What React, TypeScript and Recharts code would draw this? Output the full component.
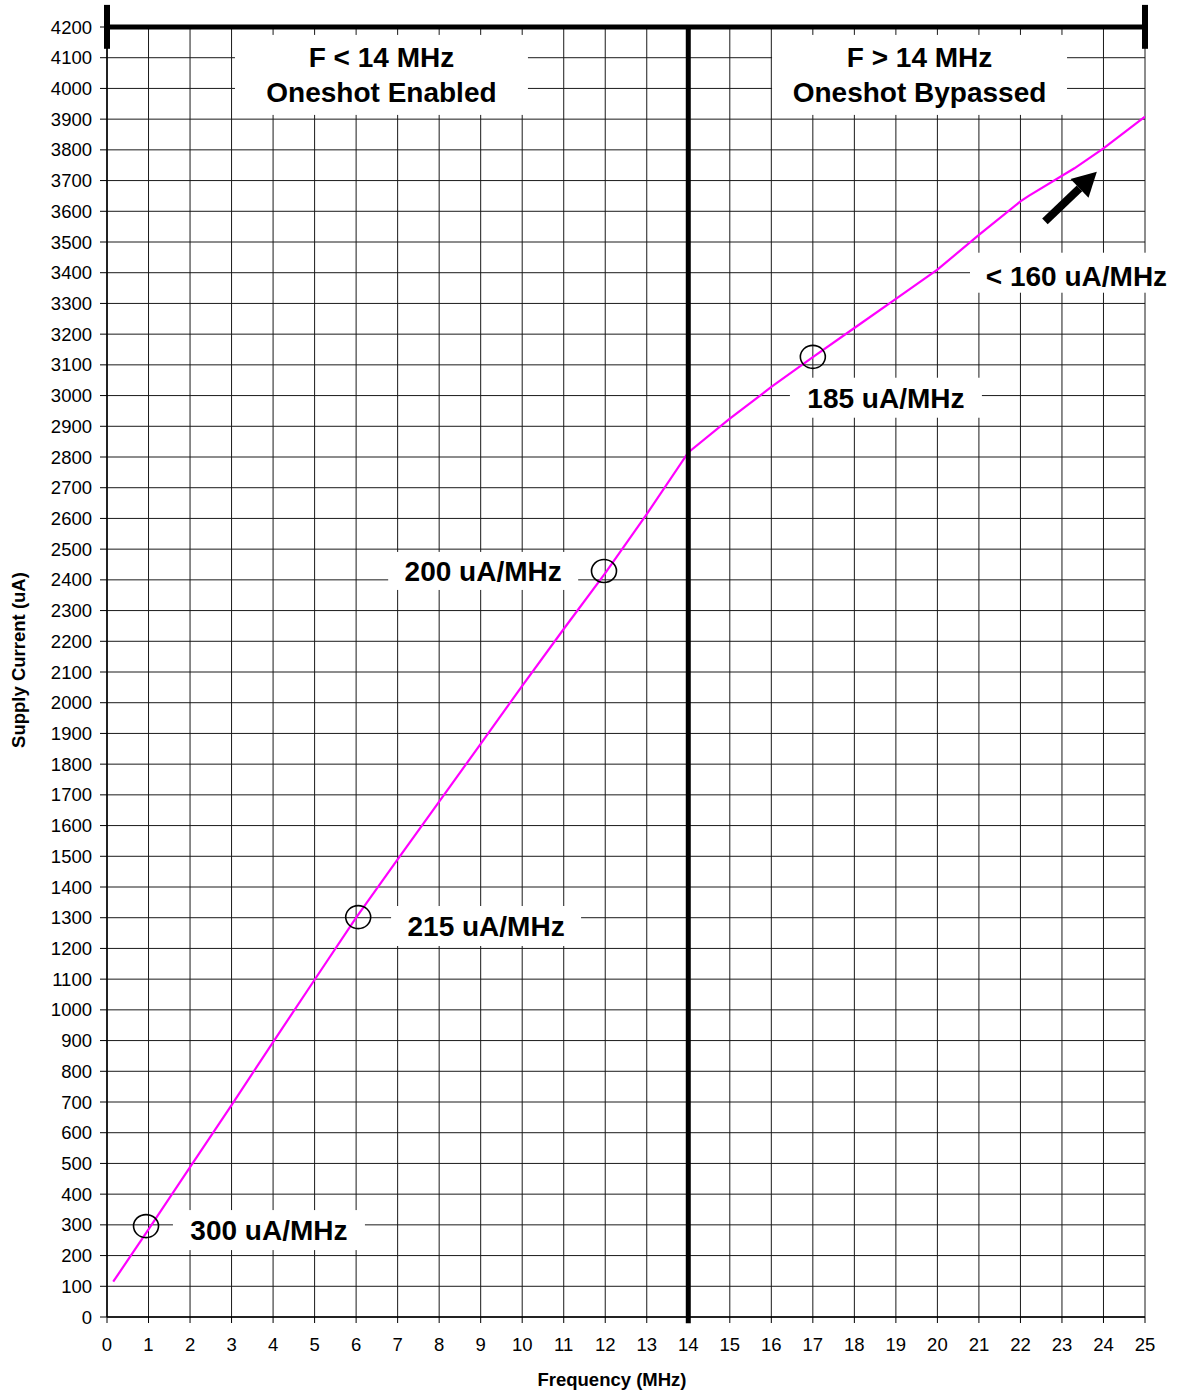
import {
  ComposedChart, Line, Scatter, XAxis, YAxis, CartesianGrid,
  ReferenceLine, ReferenceDot, Label,
} from 'recharts';

const FONT = '"Liberation Sans", Arial, Helvetica, sans-serif';

// frequency (MHz) and supply current (uA)
const FREQ = [0.15, 1, 2, 3, 4, 5, 6, 7, 8, 9, 10, 11, 12, 13, 14, 15, 16, 17, 18, 19, 20, 21, 22, 22.2, 23.3, 24, 25];
const CURRENT = [115, 285, 488, 690, 895, 1098, 1300, 1490, 1678, 1866, 2055, 2240, 2422, 2614, 2815, 2925, 3028, 3125, 3220, 3315, 3410, 3523, 3632, 3650, 3740, 3805, 3908];

// circled points on the curve
const MARK_FREQ = [0.94, 6.05, 11.97, 17.0];
const MARK_CURRENT = [296, 1302, 2429, 3126];

const X_TICKS = [0, 1, 2, 3, 4, 5, 6, 7, 8, 9, 10, 11, 12, 13, 14, 15, 16, 17, 18, 19, 20, 21, 22, 23, 24, 25];
const Y_TICKS = [
  0, 100, 200, 300, 400, 500, 600, 700, 800, 900, 1000, 1100, 1200, 1300, 1400,
  1500, 1600, 1700, 1800, 1900, 2000, 2100, 2200, 2300, 2400, 2500, 2600, 2700,
  2800, 2900, 3000, 3100, 3200, 3300, 3400, 3500, 3600, 3700, 3800, 3900, 4000,
  4100, 4200,
];

// text boxes, anchored at a (freq, current) point
const NOTES = [
  { f: 6.61, i: 4044, w: 293, h: 80, dy: 0, lines: ['F < 14 MHz', 'Oneshot Enabled'] },
  { f: 19.57, i: 4044, w: 295, h: 80, dy: 0, lines: ['F > 14 MHz', 'Oneshot Bypassed'] },
  { f: 23.35, i: 3400, w: 213, h: 40, dy: 3, lines: ['< 160 uA/MHz'] },
  { f: 18.76, i: 2993, w: 192, h: 40, dy: 0, lines: ['185 uA/MHz'] },
  { f: 9.06, i: 2429, w: 190, h: 38, dy: 0, lines: ['200 uA/MHz'] },
  { f: 9.13, i: 1273, w: 190, h: 40, dy: 0, lines: ['215 uA/MHz'] },
  { f: 3.9, i: 283, w: 192, h: 40, dy: 0, lines: ['300 uA/MHz'] },
];

// arrow pointing at the top segment
const ARROW_FROM = { f: 22.59, i: 3567 };
const ARROW_TO = { f: 23.84, i: 3729 };

const data = FREQ.map((f, k) => ({ f, current: CURRENT[k] }));
const marks = MARK_FREQ.map((f, k) => ({ f, current: MARK_CURRENT[k] }));

function noteShape(lines: string[], w: number, h: number, dy: number) {
  return (p: any) => (
    <g>
      <rect x={p.cx - w / 2} y={p.cy - h / 2} width={w} height={h} fill="#fff" />
      {lines.map((t, k) => (
        <text
          key={k}
          x={p.cx}
          y={p.cy + (k - (lines.length - 1) / 2) * 35 + 10 + dy}
          textAnchor="middle"
          fontFamily={FONT}
          fontWeight="bold"
          fontSize={28}
          fill="#000"
        >
          {t}
        </text>
      ))}
    </g>
  );
}

function Arrow(p: any) {
  const { x1, y1, x2, y2 } = p;
  const ang = Math.atan2(y2 - y1, x2 - x1);
  const len = 24;
  const half = 13;
  const bx = x2 - len * Math.cos(ang);
  const by = y2 - len * Math.sin(ang);
  const nx = -Math.sin(ang);
  const ny = Math.cos(ang);
  return (
    <g>
      <line x1={x1} y1={y1} x2={bx} y2={by} stroke="#000" strokeWidth={8} />
      <polygon
        points={`${x2},${y2} ${bx + nx * half},${by + ny * half} ${bx - nx * half},${by - ny * half}`}
        fill="#000"
      />
    </g>
  );
}

export default function App() {
  return (
    <div style={{ position: 'absolute', left: 0, top: 0, background: '#fff' }}>
      <ComposedChart
        width={1178}
        height={1393}
        data={data}
        margin={{ top: 27, right: 33, bottom: 16, left: 0 }}
      >
        <CartesianGrid stroke="#1a1a1a" strokeWidth={1} />
        <XAxis
          dataKey="f"
          type="number"
          domain={[0, 25]}
          ticks={X_TICKS}
          interval={0}
          height={60}
          tickSize={6}
          tickMargin={15}
          allowDataOverflow
          axisLine={{ stroke: '#000', strokeWidth: 1.5 }}
          tickLine={{ stroke: '#000' }}
          tick={{ fill: '#000', fontSize: 18.5, fontFamily: FONT }}
        >
          <Label
            content={() => (
              <text x={612} y={1386} textAnchor="middle" fontFamily={FONT} fontWeight="bold" fontSize={18.5} fill="#000">
                Frequency (MHz)
              </text>
            )}
          />
        </XAxis>
        <YAxis
          type="number"
          domain={[0, 4200]}
          ticks={Y_TICKS}
          interval={0}
          width={107}
          tickSize={7}
          tickMargin={8}
          allowDataOverflow
          axisLine={{ stroke: '#000', strokeWidth: 1.5 }}
          tickLine={{ stroke: '#000' }}
          tick={{ fill: '#000', fontSize: 18.5, fontFamily: FONT }}
        >
          <Label
            content={() => (
              <text
                x={25}
                y={660}
                transform="rotate(-90 25 660)"
                textAnchor="middle"
                fontFamily={FONT}
                fontWeight="bold"
                fontSize={18.5}
                fill="#000"
              >
                Supply Current (uA)
              </text>
            )}
          />
        </YAxis>

        {NOTES.map((n, k) => (
          <ReferenceDot
            key={k}
            x={n.f}
            y={n.i}
            ifOverflow="visible"
            shape={noteShape(n.lines, n.w, n.h, n.dy)}
          />
        ))}

        <Line
          type="linear"
          dataKey="current"
          stroke="#ff00ff"
          strokeWidth={2.2}
          dot={false}
          isAnimationActive={false}
        />
        <Scatter
          data={marks}
          dataKey="current"
          isAnimationActive={false}
          shape={(p: any) => (
            <ellipse cx={p.cx} cy={p.cy} rx={12.5} ry={11.5} fill="none" stroke="#000" strokeWidth={1.6} />
          )}
        />

        <ReferenceLine
          segment={[{ x: 14, y: -20 }, { x: 14, y: 4200 }]}
          stroke="#000"
          strokeWidth={5}
          ifOverflow="visible"
        />
        <ReferenceLine y={4200} stroke="#000" strokeWidth={5} ifOverflow="visible" />
        <ReferenceLine
          segment={[{ x: 0, y: 4272 }, { x: 0, y: 4129 }]}
          stroke="#000"
          strokeWidth={6}
          ifOverflow="visible"
        />
        <ReferenceLine
          segment={[{ x: 25, y: 4272 }, { x: 25, y: 4129 }]}
          stroke="#000"
          strokeWidth={6}
          ifOverflow="visible"
        />
        <ReferenceLine
          segment={[{ x: ARROW_FROM.f, y: ARROW_FROM.i }, { x: ARROW_TO.f, y: ARROW_TO.i }]}
          ifOverflow="visible"
          shape={(p: any) => <Arrow {...p} />}
        />
      </ComposedChart>
    </div>
  );
}
